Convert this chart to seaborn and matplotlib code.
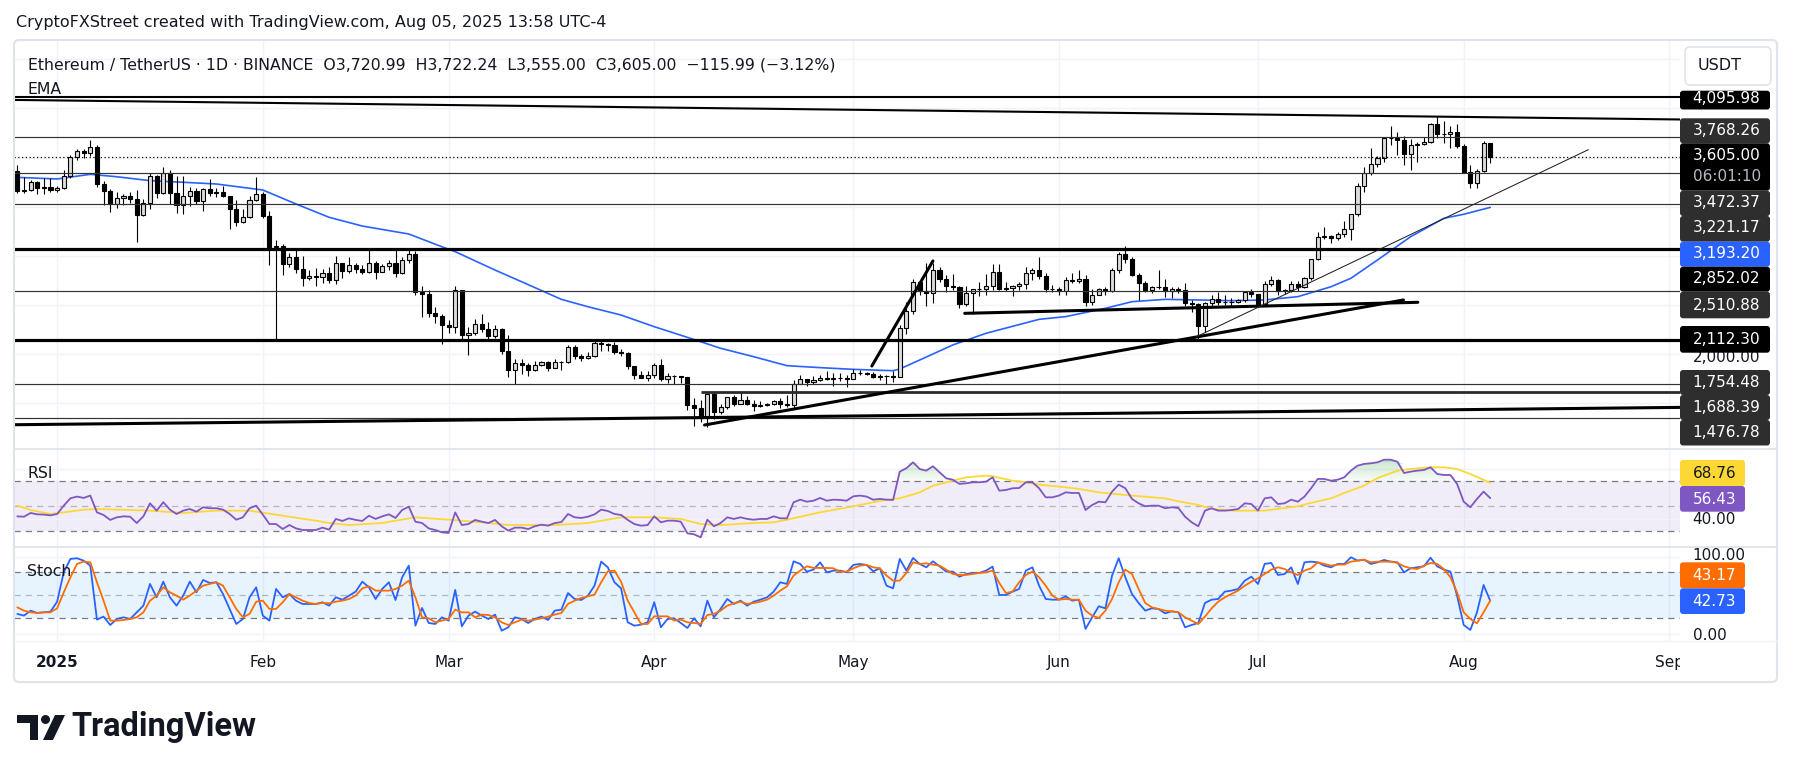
import numpy as np
import pandas as pd
import matplotlib
matplotlib.use("Agg")
import matplotlib.pyplot as plt
import matplotlib.dates as mdates
from matplotlib.patches import FancyBboxPatch, Rectangle, Circle, Polygon
import seaborn as sns

sns.set_style("white")
plt.rcParams["font.family"] = ["DejaVu Sans"]

# ---------------------------------------------------------------- data
start_date = "2024-12-26"

opens = [
    3489, 3330, 3333, 3397, 3349, 3357,
    3332, 3353, 3451, 3605, 3657, 3634, 3686, 3380, 3327, 3220, 3266, 3282, 3265, 3135, 3225, 3451,
    3307, 3473, 3308, 3215, 3282, 3327, 3242, 3340, 3310, 3317, 3283, 3184, 3077, 3113, 3250,
    3300, 3125, 2869, 2880, 2732, 2786, 2687, 2621, 2632, 2628, 2660, 2601, 2739, 2675, 2726, 2692,
    2663, 2741, 2670, 2716, 2740, 2662, 2763, 2817, 2505, 2488, 2333, 2308,
    2237, 2217, 2518, 2150, 2172, 2241, 2200, 2140, 2203, 2020, 1865, 1920, 1908, 1863, 1911, 1935,
    1887, 1929, 1932, 2057, 1983, 1965, 1984, 2085, 2081, 2070, 2010, 2003, 1896, 1827, 1805,
    1822, 1905, 1795, 1817, 1816, 1806, 1581, 1553, 1473, 1670, 1521, 1566, 1644, 1591, 1622, 1588,
    1576, 1584, 1589, 1614, 1587, 1578, 1756, 1795, 1770, 1786, 1805, 1792, 1799, 1798,
    1794, 1839, 1842, 1834, 1809, 1815, 1815, 1812, 2208, 2345, 2583, 2515, 2496, 2680, 2609, 2548,
    2546, 2404, 2497, 2524, 2526, 2550, 2663, 2528, 2534, 2548, 2566, 2662, 2681, 2633, 2531,
    2528, 2508, 2602, 2593, 2608, 2419, 2482, 2526, 2510, 2684, 2816, 2771, 2644, 2576, 2523, 2547,
    2545, 2513, 2524, 2519, 2410, 2405, 2228, 2413, 2444, 2420, 2418, 2424, 2435, 2500,
    2486, 2406, 2570, 2597, 2509, 2516, 2571, 2541, 2615, 2770, 2952, 2958, 2942, 2972, 3013, 3139,
    3371, 3476, 3545, 3594, 3756, 3762, 3745, 3628, 3704, 3710, 3728, 3873, 3795, 3795, 3809,
    3697, 3478, 3395, 3492, 3720.99,
]
highs = [
    3535, 3440, 3418, 3405, 3430, 3430,
    3366, 3495, 3620, 3672, 3670, 3745, 3703, 3412, 3340, 3322, 3300, 3320, 3335, 3260, 3475, 3460,
    3525, 3495, 3450, 3450, 3361, 3350, 3350, 3425, 3350, 3370, 3290, 3255, 3180, 3283, 3437,
    3320, 3160, 2925, 2895, 2825, 2855, 2795, 2680, 2700, 2690, 2707, 2795, 2740, 2790, 2738, 2720,
    2845, 2757, 2730, 2762, 2845, 2790, 2856, 2835, 2550, 2520, 2378, 2325,
    2275, 2550, 2520, 2215, 2280, 2320, 2258, 2230, 2212, 2150, 1960, 1955, 1922, 1943, 1940, 1942,
    1954, 1937, 2068, 2070, 2000, 2010, 2100, 2104, 2085, 2092, 2035, 2010, 1902, 1858, 1860,
    1925, 1955, 1845, 1830, 1820, 1812, 1640, 1620, 1690, 1690, 1590, 1650, 1660, 1690, 1655, 1620,
    1615, 1600, 1625, 1640, 1660, 1785, 1830, 1795, 1820, 1830, 1857, 1840, 1845, 1830,
    1875, 1870, 1847, 1848, 1835, 1825, 1860, 2230, 2420, 2605, 2595, 2740, 2738, 2710, 2640, 2650,
    2555, 2550, 2525, 2585, 2650, 2735, 2730, 2585, 2560, 2585, 2705, 2700, 2790, 2660, 2560,
    2545, 2625, 2660, 2680, 2640, 2530, 2537, 2540, 2695, 2830, 2880, 2790, 2655, 2590, 2555, 2680,
    2610, 2540, 2545, 2575, 2440, 2410, 2420, 2480, 2500, 2480, 2450, 2445, 2510, 2525,
    2490, 2590, 2635, 2605, 2530, 2590, 2590, 2625, 2775, 2995, 3030, 2970, 2990, 3080, 3140, 3390,
    3520, 3680, 3615, 3765, 3860, 3810, 3775, 3755, 3730, 3770, 3880, 3941, 3900, 3860, 3870,
    3712, 3535, 3510, 3734, 3722.24,
]
lows = [
    3308, 3310, 3325, 3300, 3305, 3320,
    3320, 3340, 3432, 3582, 3600, 3612, 3360, 3209, 3155, 3189, 3213, 3225, 2909, 3120, 3180, 3270,
    3300, 3220, 3150, 3140, 3205, 3220, 3160, 3290, 3275, 3275, 3020, 3040, 3065, 3110, 3247,
    3110, 2725, 2120, 2640, 2703, 2660, 2555, 2600, 2550, 2580, 2580, 2570, 2615, 2660, 2660, 2650,
    2660, 2610, 2664, 2680, 2625, 2653, 2740, 2480, 2300, 2300, 2251, 2076,
    2172, 2172, 2100, 1993, 2156, 2180, 2102, 2130, 2000, 1810, 1755, 1835, 1820, 1860, 1901, 1862,
    1885, 1870, 1926, 1960, 1944, 1960, 1975, 2025, 2020, 1995, 1985, 1875, 1795, 1800, 1775,
    1800, 1780, 1760, 1750, 1760, 1540, 1411, 1440, 1400, 1470, 1505, 1545, 1570, 1590, 1580, 1535,
    1565, 1575, 1580, 1560, 1565, 1560, 1750, 1735, 1750, 1780, 1785, 1740, 1775, 1730,
    1790, 1830, 1824, 1800, 1785, 1752, 1770, 1806, 2158, 2320, 2480, 2390, 2415, 2585, 2500, 2521,
    2375, 2390, 2320, 2470, 2480, 2520, 2520, 2515, 2470, 2520, 2525, 2600, 2610, 2500, 2500,
    2475, 2475, 2580, 2580, 2385, 2400, 2478, 2475, 2500, 2660, 2740, 2630, 2440, 2500, 2495, 2530,
    2460, 2450, 2495, 2385, 2340, 2120, 2180, 2370, 2400, 2395, 2380, 2413, 2425, 2460,
    2380, 2395, 2555, 2480, 2490, 2505, 2510, 2535, 2600, 2760, 2935, 2900, 2930, 2955, 2930, 3125,
    3320, 3460, 3520, 3565, 3700, 3620, 3540, 3500, 3560, 3700, 3720, 3760, 3720, 3680, 3675,
    3470, 3355, 3355, 3480, 3555.00,
]
closes = [
    3330, 3333, 3397, 3349, 3357, 3332,
    3353, 3451, 3605, 3657, 3634, 3686, 3380, 3327, 3220, 3266, 3282, 3265, 3135, 3225, 3451, 3307,
    3473, 3308, 3215, 3282, 3327, 3242, 3340, 3310, 3317, 3283, 3184, 3077, 3113, 3250, 3300,
    3125, 2869, 2880, 2732, 2786, 2687, 2621, 2632, 2628, 2660, 2601, 2739, 2675, 2726, 2692, 2663,
    2741, 2670, 2716, 2740, 2662, 2763, 2817, 2505, 2488, 2333, 2308, 2237,
    2217, 2518, 2150, 2172, 2241, 2200, 2140, 2203, 2020, 1865, 1920, 1908, 1863, 1911, 1935, 1887,
    1929, 1932, 2057, 1983, 1965, 1984, 2085, 2081, 2070, 2010, 2003, 1896, 1827, 1805, 1822,
    1905, 1795, 1817, 1816, 1806, 1581, 1553, 1473, 1670, 1521, 1566, 1644, 1591, 1622, 1588, 1576,
    1584, 1589, 1614, 1587, 1578, 1756, 1795, 1770, 1786, 1805, 1792, 1799, 1798, 1794,
    1839, 1842, 1834, 1809, 1815, 1815, 1812, 2208, 2345, 2583, 2515, 2496, 2680, 2609, 2548, 2546,
    2404, 2497, 2524, 2526, 2550, 2663, 2528, 2534, 2548, 2566, 2662, 2681, 2633, 2531, 2528,
    2508, 2602, 2593, 2608, 2419, 2482, 2526, 2510, 2684, 2816, 2771, 2644, 2576, 2523, 2547, 2545,
    2513, 2524, 2519, 2410, 2405, 2228, 2413, 2444, 2420, 2418, 2424, 2435, 2500, 2486,
    2406, 2570, 2597, 2509, 2516, 2571, 2541, 2615, 2770, 2952, 2958, 2942, 2972, 3013, 3139, 3371,
    3476, 3545, 3594, 3756, 3762, 3745, 3628, 3704, 3710, 3728, 3873, 3795, 3795, 3809, 3697,
    3478, 3395, 3492, 3721, 3605.00,
]

ema_dates = [
    "2024-12-26", "2025-01-01", "2025-01-06", "2025-01-10", "2025-01-15", "2025-01-20", "2025-01-25",
    "2025-01-30", "2025-02-01", "2025-02-06", "2025-02-11", "2025-02-16", "2025-02-23", "2025-02-28",
    "2025-03-02", "2025-03-08", "2025-03-12", "2025-03-18", "2025-03-22", "2025-03-27", "2025-04-01",
    "2025-04-06", "2025-04-11", "2025-04-16", "2025-04-21", "2025-04-26", "2025-05-01", "2025-05-07",
    "2025-05-08", "2025-05-11", "2025-05-16", "2025-05-21", "2025-05-29", "2025-06-02", "2025-06-08",
    "2025-06-12", "2025-06-17", "2025-06-22", "2025-06-27", "2025-07-02", "2025-07-07", "2025-07-12",
    "2025-07-15", "2025-07-19", "2025-07-24", "2025-07-29", "2025-08-01", "2025-08-05",
]
ema_values = [
    3438, 3425, 3463, 3443, 3411, 3398, 3384,
    3349, 3335, 3221, 3112, 3041, 2976, 2872,
    2832, 2682, 2587, 2443, 2383, 2315, 2220,
    2133, 2044, 1975, 1902, 1886, 1872, 1861,
    1875, 1948, 2071, 2166, 2280, 2302, 2370,
    2424, 2443, 2438, 2432, 2438, 2465, 2546,
    2615, 2764, 2954, 3104, 3137, 3193.20,
]

rsi_values = [
    41.8, 41.5, 44.5, 43.4, 43.2, 42.6, 43.7, 50.4, 56.3, 57.7,
    56.6, 58.5, 45.0, 42.9, 38.9, 41.0, 41.8, 41.5, 36.4, 41.8,
    52.3, 46.4, 53.2, 47.2, 43.7, 46.4, 47.7, 45.6, 49.1, 48.3,
    48.3, 47.2, 43.7, 39.1, 41.0, 48.3, 50.4, 43.2, 35.6, 35.6,
    31.6, 34.8, 32.1, 30.8, 30.8, 30.8, 32.7, 31.1, 39.7, 38.1,
    40.2, 38.9, 38.1, 42.3, 39.7, 41.8, 43.4, 40.5, 46.9, 49.6,
    37.5, 36.4, 32.1, 30.8, 28.9, 28.4, 45.0, 34.8, 35.6, 38.9,
    37.5, 36.4, 38.9, 33.8, 30.3, 32.7, 32.7, 31.6,
    33.8, 35.1, 34.3, 36.4, 37.2, 43.7, 41.0, 40.5, 41.5, 43.4,
    47.2, 46.1, 43.7, 42.9, 38.9, 35.6, 34.3, 34.8, 41.8, 37.0,
    38.3, 38.3, 37.5, 28.1, 27.3, 24.9, 39.1, 33.8, 36.4, 41.0,
    39.7, 41.0, 39.7, 39.1, 39.7, 39.7, 41.8, 40.2, 40.2, 53.1,
    55.2, 53.6, 54.4, 56.6, 54.4, 55.2, 55.0, 54.4, 57.9, 58.5,
    57.7, 55.2, 55.8, 55.2, 55.0, 77.8, 80.5, 85.3, 79.9, 78.6,
    82.1, 77.2, 72.4, 71.3, 67.9, 68.4, 69.2, 69.2, 69.7, 73.2,
    62.5, 63.0, 64.4, 64.6, 69.2, 69.2, 64.4,
    57.1, 57.1, 58.5, 61.1, 60.6, 60.6, 46.9, 50.9, 53.6, 53.1,
    61.7, 67.3, 64.4, 55.8, 52.3, 49.9, 50.4, 50.4, 48.3, 49.1,
    48.5, 41.5, 37.0, 33.8, 46.4, 48.3, 46.4, 46.4, 46.9, 47.7,
    52.3, 51.7, 46.4, 56.3, 57.1, 51.7, 52.3, 55.2, 53.6, 57.7,
    64.4, 71.9, 71.9, 70.5, 71.3, 73.2, 78.6, 82.6, 84.0, 84.5,
    85.3, 87.4, 87.4, 85.8, 76.7, 77.8, 78.6, 79.1, 81.3, 75.9,
    75.1, 75.1, 67.9, 53.6, 49.1, 55.8, 61.7, 56.43,
]

rsi_ma_dates = [
    "2024-12-26", "2024-12-28", "2024-12-31", "2025-01-02", "2025-01-05", "2025-01-07", "2025-01-10",
    "2025-01-15", "2025-01-20", "2025-01-25", "2025-01-30", "2025-02-04", "2025-02-09", "2025-02-11",
    "2025-02-14", "2025-02-19", "2025-02-21", "2025-02-24", "2025-03-01", "2025-03-06", "2025-03-10",
    "2025-03-14", "2025-03-17", "2025-03-22", "2025-03-27", "2025-04-01", "2025-04-05", "2025-04-08",
    "2025-04-11", "2025-04-16", "2025-04-19", "2025-04-21", "2025-04-26", "2025-05-01", "2025-05-06",
    "2025-05-08", "2025-05-11", "2025-05-13", "2025-05-16", "2025-05-18", "2025-05-21", "2025-05-22",
    "2025-05-25", "2025-05-27", "2025-05-29", "2025-06-02", "2025-06-04", "2025-06-07", "2025-06-12",
    "2025-06-17", "2025-06-19", "2025-06-22", "2025-06-24", "2025-06-27", "2025-07-02", "2025-07-07",
    "2025-07-09", "2025-07-12", "2025-07-14", "2025-07-17", "2025-07-19", "2025-07-22", "2025-07-24",
    "2025-07-27", "2025-07-29", "2025-07-31", "2025-08-02", "2025-08-05",
]
rsi_ma_values = [
    50.4, 46.9, 43.7, 45.0, 47.2, 47.7, 47.2,
    46.4, 44.5, 46.4, 46.4, 42.3, 38.3, 36.4,
    34.8, 36.4, 38.3, 41.0, 39.1, 37.0, 34.8,
    34.8, 34.8, 36.4, 41.0, 41.0, 39.7, 35.6,
    34.8, 36.4, 37.0, 39.1, 45.0, 49.9, 55.2,
    56.3, 61.1, 66.4, 70.5, 73.2, 74.5, 74.0,
    70.5, 69.2, 67.3, 65.2, 63.9, 61.1, 58.5,
    56.3, 53.9, 51.0, 47.7, 46.4, 46.4, 49.9,
    52.6, 56.3, 60.6, 66.5, 72.6, 78.5, 79.9,
    81.3, 81.3, 79.9, 75.9, 68.76,
]

stoch_k = [
    25.7, 23.5, 30.0, 27.0, 27.8, 28.7, 41.7, 80.0, 97.4, 98.3,
    95.2, 88.7, 18.3, 22.2, 11.3, 19.1, 21.3, 19.1, 27.8, 36.5,
    64.8, 47.4, 67.8, 47.4, 36.5, 49.6, 67.8, 53.9, 70.0, 66.1,
    67.0, 51.7, 32.2, 12.6, 19.1, 47.4, 60.4, 23.5, 17.0, 58.3,
    47.4, 51.7, 43.0, 38.7, 38.7, 38.7, 40.9, 36.5, 47.4, 44.3,
    49.6, 54.8, 67.8, 60.4, 45.2, 58.3, 67.0, 43.9, 73.5, 88.7,
    10.4, 33.5, 13.9, 12.6, 21.3, 17.0, 57.0, 9.6, 23.5, 28.7,
    23.5, 19.1, 24.8, 3.9, 8.3, 21.3, 19.1, 13.9, 19.1,
    22.2, 17.8, 30.0, 31.3, 53.0, 45.2, 43.9, 49.6, 62.6, 93.9,
    86.5, 67.0, 59.1, 14.8, 10.4, 11.7, 14.8, 40.9, 8.3, 19.1,
    20.0, 13.9, 7.4, 20.0, 9.6, 43.0, 21.3, 32.2, 45.2, 38.7,
    43.0, 36.5, 41.7, 44.3, 47.4, 54.8, 67.0, 64.8, 94.3, 90.9,
    80.9, 83.5, 93.0, 80.0, 82.2, 82.2, 80.0, 89.6, 90.9, 89.6,
    81.3, 85.2, 62.6, 59.1, 97.4, 82.2, 98.7, 90.9, 86.5, 94.3,
    87.8, 80.9, 80.9, 74.3, 77.8, 79.1, 79.1, 82.2, 87.4, 50.4,
    50.4, 54.8, 58.3, 82.2, 86.5, 62.6,
    45.2, 44.3, 44.3, 48.7, 43.0, 44.3, 6.1, 21.3, 35.7, 33.0,
    75.7, 98.3, 73.5, 51.7, 40.0, 30.0, 33.0, 32.2, 26.5, 29.1,
    27.8, 8.3, 11.3, 13.9, 40.0, 44.3, 45.2, 54.8, 56.1, 58.3,
    69.1, 74.3, 64.8, 90.9, 92.2, 76.5, 77.8, 86.5, 64.8, 93.0,
    93.9, 93.0, 88.7, 86.5, 90.9, 90.9, 99.6, 95.2, 96.5, 90.9,
    93.0, 96.1, 93.9, 93.0, 80.0, 85.2, 86.5, 87.8, 99.0, 87.8,
    83.5, 80.9, 49.6, 11.3, 4.8, 27.8, 63.5, 42.73,
]
stoch_d = [
    34.3, 30.0, 27.8, 27.0, 27.8, 27.8, 33.0, 53.9, 73.5, 90.9,
    93.9, 93.0, 67.0, 43.0, 17.0, 17.0, 17.8, 19.1, 21.3, 27.8,
    43.0, 49.6, 60.4, 53.9, 49.6, 44.3, 49.6, 56.1, 62.6, 64.8,
    67.0, 62.6, 47.4, 32.2, 21.3, 25.7, 41.7, 43.0, 32.2, 32.2,
    40.9, 51.7, 47.4, 43.0, 40.0, 38.7, 40.0, 39.6, 41.7, 43.0,
    45.2, 49.6, 59.1, 61.7, 56.1, 56.1, 56.1, 58.3, 62.6, 69.1,
    47.4, 21.3, 20.0, 14.8, 17.0, 19.1, 31.3, 27.8, 27.8, 21.3,
    24.8, 24.3, 21.3, 14.8, 11.3, 14.8, 18.3, 17.0, 18.3,
    20.0, 22.2, 24.8, 27.0, 38.7, 43.0, 46.5, 48.7, 50.9, 67.0,
    81.3, 82.2, 67.8, 43.0, 27.8, 12.6, 12.6, 22.6, 22.6, 22.6,
    17.0, 18.3, 14.8, 13.9, 12.6, 24.3, 25.7, 30.0, 36.5, 39.6,
    41.7, 38.7, 40.0, 41.7, 44.3, 49.6, 56.1, 61.7, 75.7, 82.2,
    87.8, 85.7, 85.7, 85.7, 85.2, 80.9, 80.9, 85.2, 88.7, 89.6,
    86.5, 85.2, 75.7, 69.1, 69.1, 79.1, 93.0, 90.9, 91.7, 90.0,
    88.7, 83.5, 77.8, 76.5, 76.5, 77.8, 79.1, 80.0, 82.2, 66.1,
    53.0, 54.8, 67.0, 76.5, 80.9, 73.5,
    62.6, 49.6, 44.3, 45.2, 44.3, 44.3, 30.0, 23.5, 20.4, 30.0,
    45.2, 67.0, 83.5, 77.8, 58.3, 40.0, 34.3, 32.2, 30.0, 29.1,
    27.8, 21.3, 17.0, 12.6, 22.2, 33.0, 41.7, 47.4, 51.7, 56.1,
    62.6, 67.8, 72.2, 77.8, 83.5, 86.5, 84.3, 80.0, 76.5, 82.2,
    85.2, 93.0, 90.9, 88.7, 90.0, 90.0, 93.9, 95.2, 96.5, 93.0,
    93.9, 93.9, 93.9, 92.2, 87.8, 85.2, 84.3, 88.7, 92.2, 90.9,
    84.3, 73.5, 53.9, 27.8, 19.1, 13.5, 27.8, 43.17,
]

thin_levels = [3768.26, 3472.37, 3221.17, 2510.88, 1754.48, 1476.78]
thick_levels = [4095.98, 2852.02, 2112.30]
partial_level = 1688.39
partial_level_start = "2025-04-08"

trend_top = [("2024-12-25", 4070), ("2025-09-03", 3910)]
trend_bottom = [("2024-12-25", 1420), ("2025-09-03", 1562)]
trend_april = [("2025-04-08 14:00", 1418), ("2025-07-22 22:00", 2438)]
trend_flat = [("2025-05-17 19:00", 2329), ("2025-07-25 02:00", 2419)]
trend_may = [("2025-05-03 19:00", 1899), ("2025-05-13 00:00", 2756)]
trend_thin = [("2025-06-21 17:00", 2138), ("2025-08-19 19:00", 3664)]

month_starts = ["2025-01-01", "2025-02-01", "2025-03-01", "2025-04-01", "2025-05-01",
                "2025-06-01", "2025-07-01", "2025-08-01", "2025-09-01"]
month_labels = ["2025", "Feb", "Mar", "Apr", "May", "Jun", "Jul", "Aug", "Sep"]
price_grid = [1600, 2000, 2400, 2800, 3200, 3600, 4000, 4400]
countdown = "06:01:10"

# ---------------------------------------------------------------- checks
n = len(closes)
for name, arr in [("opens", opens), ("highs", highs), ("lows", lows), ("rsi", rsi_values),
                  ("k", stoch_k), ("d", stoch_d)]:
    if len(arr) != n:
        raise ValueError(f"{name} has {len(arr)} values, expected {n}")
if len(ema_dates) != len(ema_values) or len(rsi_ma_dates) != len(rsi_ma_values):
    raise ValueError("sample length mismatch")

dates = pd.date_range(start_date, periods=n, freq="D")
o = np.array(opens, float)
h = np.array(highs, float)
l = np.array(lows, float)
c = np.array(closes, float)
xd = mdates.date2num(dates)

# ---------------------------------------------------------------- figure
W, H = 1793, 772
fig = plt.figure(figsize=(W / 100, H / 100), dpi=100)
fig.patch.set_facecolor("white")

GRID = "#f0f3fa"
DARK = "#2e2e2e"
TXT = "#131722"


def px_axes(x0, y0, x1, y1):
    ax = fig.add_axes([x0 / W, 1 - y1 / H, (x1 - x0) / W, (y1 - y0) / H])
    ax.set_facecolor("none")
    for s in ax.spines.values():
        s.set_visible(False)
    ax.tick_params(left=False, bottom=False, labelleft=False, labelbottom=False)
    return ax


L, R = 14, 1680
MAIN_T, MAIN_B = 40, 449.3
RSI_B = 547.3
ST_B = 640.7
DATE_B = 682

ax_main = px_axes(L, MAIN_T, R, MAIN_B)
ax_rsi = px_axes(L, MAIN_B, R, RSI_B)
ax_st = px_axes(L, RSI_B, R, ST_B)
ax_date = px_axes(L, ST_B, R, DATE_B)

jan1 = mdates.date2num(pd.Timestamp("2025-01-01"))
XL = (jan1 - 6.5, jan1 + 244.6)
month_x = mdates.date2num(pd.to_datetime(month_starts))

for ax in (ax_main, ax_rsi, ax_st):
    for mx in month_x:
        ax.axvline(mx, color=GRID, lw=1.0, zorder=0)

# ---- main pane
for p in price_grid:
    ax_main.axhline(p, color=GRID, lw=1.0, zorder=0)

sns.lineplot(x=pd.to_datetime(ema_dates), y=ema_values, ax=ax_main, color="#2962ff",
             lw=1.2, zorder=2, estimator=None)

up = c >= o
body_lo = np.minimum(o, c)
body_h = np.abs(c - o)
ax_main.vlines(xd, l, h, color="black", lw=0.8, zorder=3)
ax_main.bar(xd[up], body_h[up], bottom=body_lo[up], width=0.62, color="#dcdcdc",
            edgecolor="black", linewidth=0.8, zorder=4)
ax_main.bar(xd[~up], body_h[~up], bottom=body_lo[~up], width=0.62, color="black",
            edgecolor="black", linewidth=0.8, zorder=4)

for lv in thin_levels:
    ax_main.axhline(lv, color="#333333", lw=0.85, zorder=6)
for lv, w in zip(thick_levels, [1.5, 2.3, 2.3]):
    ax_main.axhline(lv, color="black", lw=w, zorder=6)
ax_main.plot([mdates.date2num(pd.Timestamp(partial_level_start)), XL[1] + 5],
             [partial_level, partial_level], color="#2a2a2a", lw=2.0, zorder=6,
             solid_capstyle="butt")
ax_main.axhline(c[-1], color="black", lw=0.9, ls=(0, (1, 2)), zorder=6)


def trend(ax, pts, lw, color="black"):
    xs = mdates.date2num(pd.to_datetime([p[0] for p in pts]))
    ys = [p[1] for p in pts]
    ax.plot(xs, ys, color=color, lw=lw, zorder=7, solid_capstyle="round")


trend(ax_main, trend_top, 1.5)
trend(ax_main, trend_bottom, 2.2)
trend(ax_main, trend_april, 2.2)
trend(ax_main, trend_flat, 2.2)
trend(ax_main, trend_may, 2.2)
trend(ax_main, trend_thin, 0.75, "#222222")

ax_main.set_xlim(XL)
ax_main.set_ylim(1219.9, 4558.5)
ax_main.set_xlabel("")
ax_main.set_ylabel("")

# ---- RSI pane
rsi = np.array(rsi_values)
ax_rsi.axhspan(30, 70, color="#7e57c2", alpha=0.1, lw=0, zorder=0)
for g in (40, 80):
    ax_rsi.axhline(g, color=GRID, lw=1.0, zorder=0)
for k in range(15):
    lo = 70 + 2 * k
    top = np.clip(rsi, lo, lo + 2)
    ax_rsi.fill_between(xd, lo, top, where=rsi > lo, interpolate=True, color="#4caf50",
                        alpha=0.05 + 0.03 * k, lw=0, zorder=1)
for k in range(10):
    hi = 30 - 2 * k
    bot = np.clip(rsi, hi - 2, hi)
    ax_rsi.fill_between(xd, bot, hi, where=rsi < hi, interpolate=True, color="#f23645",
                        alpha=0.05 + 0.03 * k, lw=0, zorder=1)
ax_rsi.axhline(70, color="#787b86", lw=0.9, ls=(0, (5, 4)), zorder=2)
ax_rsi.axhline(50, color="#787b86", lw=0.9, ls=(0, (5, 4)), alpha=0.5, zorder=2)
ax_rsi.axhline(30, color="#787b86", lw=0.9, ls=(0, (5, 4)), zorder=2)
sns.lineplot(x=pd.to_datetime(rsi_ma_dates), y=rsi_ma_values, ax=ax_rsi, color="#fdd835",
             lw=1.3, zorder=3, estimator=None)
sns.lineplot(x=dates, y=rsi_values, ax=ax_rsi, color="#7e57c2", lw=1.3, zorder=4,
             estimator=None)
ax_rsi.set_xlim(XL)
ax_rsi.set_ylim(16.87, 95.77)
ax_rsi.set_xlabel("")
ax_rsi.set_ylabel("")

# ---- Stoch pane
ax_st.axhspan(20, 80, color="#2196f3", alpha=0.1, lw=0, zorder=0)
for g in (0, 100):
    ax_st.axhline(g, color=GRID, lw=1.0, zorder=0)
ax_st.axhline(80, color="#787b86", lw=0.9, ls=(0, (5, 4)), zorder=2)
ax_st.axhline(50, color="#787b86", lw=0.9, ls=(0, (5, 4)), alpha=0.5, zorder=2)
ax_st.axhline(20, color="#787b86", lw=0.9, ls=(0, (5, 4)), zorder=2)
sns.lineplot(x=dates, y=stoch_k, ax=ax_st, color="#2962ff", lw=1.3, zorder=3, estimator=None)
sns.lineplot(x=dates, y=stoch_d, ax=ax_st, color="#ff6d00", lw=1.3, zorder=4, estimator=None)
ax_st.set_xlim(XL)
ax_st.set_ylim(-9.2, 112.6)
ax_st.set_xlabel("")
ax_st.set_ylabel("")

# ---- date axis
ax_date.set_xlim(XL)
ax_date.set_ylim(0, 1)
for mx, lab in zip(month_x, month_labels):
    ax_date.text(mx, 0.47, lab, ha="center", va="center", fontsize=11, color=TXT,
                 fontweight="bold" if lab.isdigit() else "normal", clip_on=True)

# ---------------------------------------------------------------- overlay (pixel coords)
ov = fig.add_axes([0, 0, 1, 1])
ov.set_xlim(0, W)
ov.set_ylim(H, 0)
ov.axis("off")

ov.add_patch(FancyBboxPatch((L, MAIN_T), 1777 - L, DATE_B - MAIN_T,
                            boxstyle="round,pad=0,rounding_size=5", fc="none",
                            ec="#e0e3eb", lw=1.5, zorder=1))
for yy in (MAIN_B, RSI_B):
    ov.plot([L, 1777], [yy, yy], color="#e0e3eb", lw=1.3, zorder=1)
ov.plot([L, 1777], [ST_B, ST_B], color="#f0f3fa", lw=1.0, zorder=1)

ov.text(16, 23, "CryptoFXStreet created with TradingView.com, Aug 05, 2025 13:58 UTC-4",
        fontsize=11.5, color=TXT, ha="left", va="center")

chg = c[-1] - o[-1]
pct = chg / o[-1] * 100
chg_s = f"{chg:,.2f}".replace("-", "\u2212")
pct_s = f"{pct:.2f}".replace("-", "\u2212")
header = (f"Ethereum / TetherUS \u00b7 1D \u00b7 BINANCE  O{o[-1]:,.2f}  H{h[-1]:,.2f}  "
          f"L{l[-1]:,.2f}  C{c[-1]:,.2f}  {chg_s} ({pct_s}%)")
ov.text(27.5, 65, header, fontsize=11.3, color=TXT, ha="left", va="center")
ov.text(27.5, 89, "EMA", fontsize=11.3, color=TXT, ha="left", va="center")
ov.text(27.5, 473, "RSI", fontsize=11.3, color=TXT, ha="left", va="center")
ov.text(27.5, 571, "Stoch", fontsize=11.3, color=TXT, ha="left", va="center")

# USDT button
ov.add_patch(FancyBboxPatch((1685, 47), 86, 38, boxstyle="round,pad=0,rounding_size=5",
                            fc="white", ec="#e0e3eb", lw=1.2))
ov.text(1720, 66, "USDT", fontsize=11.5, color=TXT, ha="center", va="center")

LX = 1692.7
# axis label partly hidden under the 2,112.30 price box
ov.text(LX, 357.0, "2,000.00", fontsize=11, color=TXT, ha="left", va="center", zorder=2)


def box(y0, y1, fc, lines, x1=1770, tc="white"):
    ov.add_patch(FancyBboxPatch((1680, y0), x1 - 1680, y1 - y0,
                                boxstyle="round,pad=0,rounding_size=3", fc=fc, ec="none",
                                zorder=3))
    for txt, yy, col in lines:
        ov.text(LX, yy, txt, fontsize=11, color=col or tc, ha="left", va="center", zorder=4)


fmt = lambda v: f"{v:,.2f}"
box(90.7, 109.5, "black", [(fmt(thick_levels[0]), 98.5, None)])
box(118.3, 143.3, DARK, [(fmt(thin_levels[0]), 130.7, None)])
box(143.3, 190.7, "black", [(fmt(c[-1]), 155.7, None), (countdown, 176.7, "#b8bbc4")])
box(190.7, 216.0, DARK, [(fmt(thin_levels[1]), 202.3, None)])
box(216.0, 241.7, DARK, [(fmt(thin_levels[2]), 227.7, None)])
box(241.7, 266.7, "#2962ff", [(fmt(ema_values[-1]), 253.3, None)])
box(266.7, 291.7, "black", [(fmt(thick_levels[1]), 278.7, None)])
box(291.7, 318.3, DARK, [(fmt(thin_levels[3]), 305.0, None)])
box(326.0, 352.7, "black", [(fmt(thick_levels[2]), 339.0, None)])
box(370.0, 395.0, DARK, [(fmt(thin_levels[4]), 382.7, None)])
box(395.0, 420.0, DARK, [(fmt(partial_level), 407.7, None)])
box(420.0, 445.5, DARK, [(fmt(thin_levels[5]), 432.7, None)])

# indicator scale labels
box(460.0, 486.0, "#fdd835", [(f"{rsi_ma_values[-1]:.2f}", 473.3, TXT)], x1=1745)
box(486.0, 511.7, "#7e57c2", [(f"{rsi_values[-1]:.2f}", 499.0, None)], x1=1745)
ov.text(LX, 519.5, "40.00", fontsize=11, color=TXT, ha="left", va="center")
ov.text(LX, 556.0, "100.00", fontsize=11, color=TXT, ha="left", va="center")
box(562.3, 588.3, "#ff6d00", [(f"{stoch_d[-1]:.2f}", 575.7, None)], x1=1745)
box(588.3, 614.0, "#2962ff", [(f"{stoch_k[-1]:.2f}", 601.7, None)], x1=1745)
ov.text(LX, 635.0, "0.00", fontsize=11, color=TXT, ha="left", va="center")

# TradingView logo
ov.add_patch(Rectangle((17, 715), 21, 8, fc=TXT, ec="none"))
ov.add_patch(Rectangle((30, 715), 8, 25, fc=TXT, ec="none"))
ov.add_patch(Circle((45.5, 719.5), 4.5, fc=TXT, ec="none"))
ov.add_patch(Polygon([(43, 740), (53, 740), (65, 715), (55, 715)], closed=True, fc=TXT, ec="none"))
ov.text(71, 727, "TradingView", fontsize=23.5, fontweight="bold", color=TXT, ha="left",
        va="center", family=["Roboto", "DejaVu Sans"])

fig.savefig("out.png", dpi=100, facecolor="white")
